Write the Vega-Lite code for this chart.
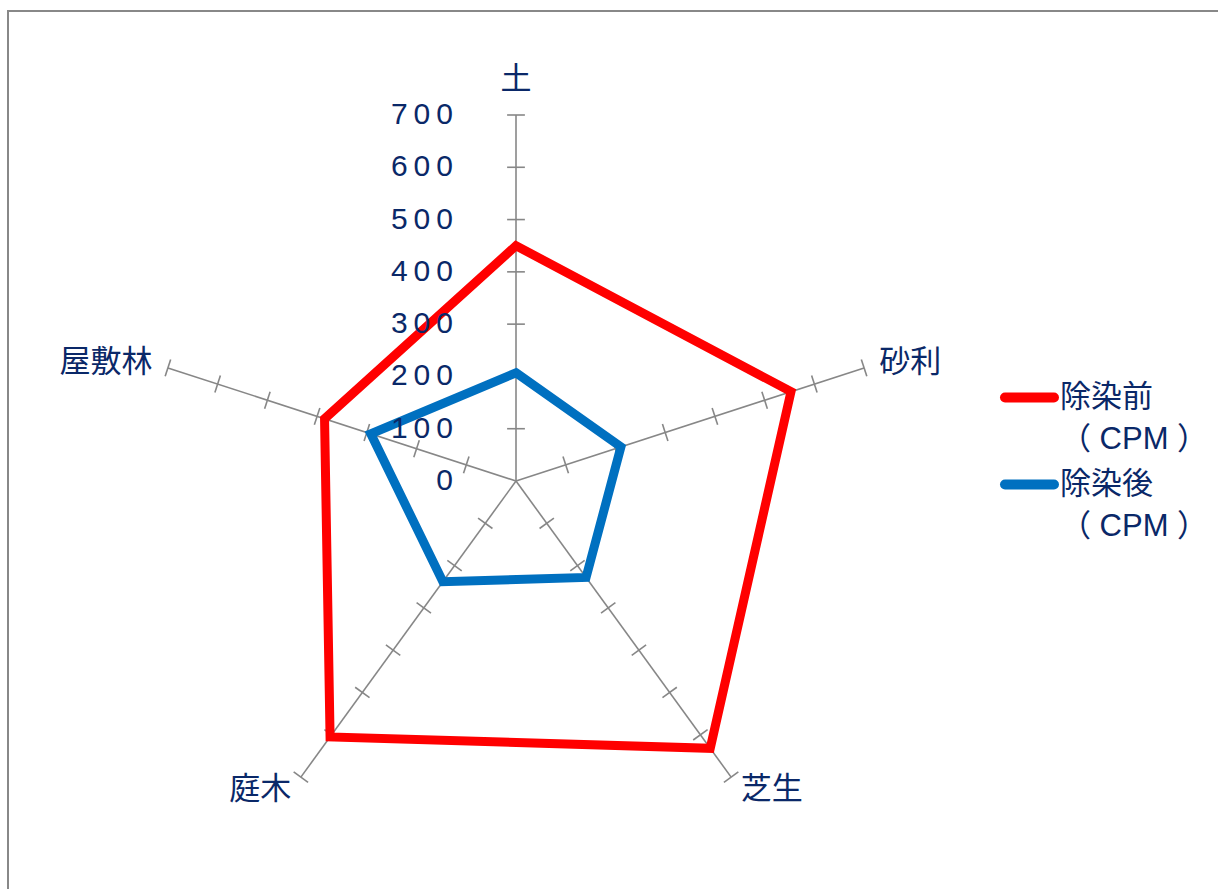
{
  "$schema": "https://vega.github.io/schema/vega-lite/v6.json",
  "width": 1215,
  "height": 883,
  "autosize": "none",
  "padding": {"left": 8, "top": 11, "right": 0, "bottom": 0},
  "background": "white",
  "config": {
    "view": {"stroke": "#888888", "strokeWidth": 2},
    "text": {"font": "Liberation Sans, Noto Sans CJK JP", "color": "#0A2868"}
  },
  "datasets": {
    "axes": [
      {"cat": "土", "i": 0, "levels": [100, 200, 300, 400, 500, 600, 700]},
      {"cat": "砂利", "i": 1, "levels": [100, 200, 300, 400, 500, 600, 700]},
      {"cat": "芝生", "i": 2, "levels": [100, 200, 300, 400, 500, 600, 700]},
      {"cat": "庭木", "i": 3, "levels": [100, 200, 300, 400, 500, 600, 700]},
      {"cat": "屋敷林", "i": 4, "levels": [100, 200, 300, 400, 500, 600, 700]}
    ],
    "values": [
      {"series": "除染前", "cat": "土", "i": 0, "value": 450},
      {"series": "除染前", "cat": "砂利", "i": 1, "value": 553},
      {"series": "除染前", "cat": "芝生", "i": 2, "value": 632},
      {"series": "除染前", "cat": "庭木", "i": 3, "value": 605},
      {"series": "除染前", "cat": "屋敷林", "i": 4, "value": 385},
      {"series": "除染後", "cat": "土", "i": 0, "value": 207},
      {"series": "除染後", "cat": "砂利", "i": 1, "value": 211},
      {"series": "除染後", "cat": "芝生", "i": 2, "value": 228},
      {"series": "除染後", "cat": "庭木", "i": 3, "value": 238},
      {"series": "除染後", "cat": "屋敷林", "i": 4, "value": 292}
    ],
    "levels": [
      {"v": 0}, {"v": 100}, {"v": 200}, {"v": 300}, {"v": 400}, {"v": 500}, {"v": 600}, {"v": 700}
    ]
  },
  "layer": [
    {
      "data": {"name": "axes"},
      "transform": [
        {"calculate": "datum.i * 2 * PI / 5", "as": "th"},
        {"calculate": "0", "as": "z"},
        {"calculate": "700 * sin(datum.th)", "as": "ex"},
        {"calculate": "700 * cos(datum.th)", "as": "ey"}
      ],
      "mark": {"type": "rule", "color": "#878787", "strokeWidth": 1.6},
      "encoding": {
        "x": {"field": "z", "type": "quantitative", "scale": {"domain": [-971.6, 1352.2], "nice": false, "zero": false}, "axis": null},
        "y": {"field": "z", "type": "quantitative", "scale": {"domain": [-789.9, 898.9], "nice": false, "zero": false}, "axis": null},
        "x2": {"field": "ex"},
        "y2": {"field": "ey"}
      }
    },
    {
      "data": {"name": "axes"},
      "transform": [
        {"flatten": ["levels"], "as": ["L"]},
        {"calculate": "datum.i * 2 * PI / 5", "as": "th"},
        {"calculate": "datum.L * sin(datum.th) + 17 * cos(datum.th)", "as": "tx1"},
        {"calculate": "datum.L * cos(datum.th) - 17 * sin(datum.th)", "as": "ty1"},
        {"calculate": "datum.L * sin(datum.th) - 17 * cos(datum.th)", "as": "tx2"},
        {"calculate": "datum.L * cos(datum.th) + 17 * sin(datum.th)", "as": "ty2"}
      ],
      "mark": {"type": "rule", "color": "#878787", "strokeWidth": 1.6},
      "encoding": {
        "x": {"field": "tx1", "type": "quantitative", "scale": {"domain": [-971.6, 1352.2], "nice": false, "zero": false}, "axis": null},
        "y": {"field": "ty1", "type": "quantitative", "scale": {"domain": [-789.9, 898.9], "nice": false, "zero": false}, "axis": null},
        "x2": {"field": "tx2"},
        "y2": {"field": "ty2"}
      }
    },
    {
      "data": {"name": "values"},
      "transform": [
        {"calculate": "datum.i * 2 * PI / 5", "as": "th"},
        {"calculate": "datum.value * sin(datum.th)", "as": "px"},
        {"calculate": "datum.value * cos(datum.th)", "as": "py"}
      ],
      "mark": {"type": "line", "interpolate": "linear-closed", "strokeWidth": 9, "strokeJoin": "miter"},
      "encoding": {
        "x": {"field": "px", "type": "quantitative", "scale": {"domain": [-971.6, 1352.2], "nice": false, "zero": false}, "axis": null},
        "y": {"field": "py", "type": "quantitative", "scale": {"domain": [-789.9, 898.9], "nice": false, "zero": false}, "axis": null},
        "order": {"field": "i", "type": "quantitative"},
        "color": {
          "field": "series",
          "type": "nominal",
          "scale": {"domain": ["除染前", "除染後"], "range": ["#FF0000", "#0070C0"]},
          "legend": {
            "title": null,
            "orient": "none",
            "legendX": 992,
            "legendY": 357,
            "symbolType": "stroke",
            "symbolSize": 2400,
            "symbolStrokeWidth": 10,
            "labelOffset": 1,
            "labelFont": "Liberation Sans, Noto Sans CJK JP",
            "labelFontSize": 31,
            "labelColor": "#0A2868",
            "labelLimit": 400,
            "labelExpr": "[datum.label, '（ CPM ）']",
            "rowPadding": -17,
            "encode": {
              "labels": {"update": {"lineHeight": {"value": 42}}},
              "symbols": {"update": {"strokeCap": {"value": "round"}}}
            }
          }
        }
      }
    },
    {
      "data": {"name": "levels"},
      "transform": [
        {"calculate": "0", "as": "z"},
        {"calculate": "join(split(toString(datum.v), ''), '\u2009')", "as": "lab"}
      ],
      "mark": {"type": "text", "align": "right", "baseline": "middle", "dx": -63, "fontSize": 30},
      "encoding": {
        "x": {"field": "z", "type": "quantitative", "scale": {"domain": [-971.6, 1352.2], "nice": false, "zero": false}, "axis": null},
        "y": {"field": "v", "type": "quantitative", "scale": {"domain": [-789.9, 898.9], "nice": false, "zero": false}, "axis": null},
        "text": {"field": "lab"}
      }
    },
    {
      "data": {"name": "axes"},
      "transform": [
        {"calculate": "datum.i * 2 * PI / 5", "as": "th"},
        {"calculate": "datum.i == 0 ? 767 : 730", "as": "R"},
        {"calculate": "sin(datum.th) > 0.01 ? 1 : (sin(datum.th) < -0.01 ? -1 : 0)", "as": "sg"},
        {"calculate": "datum.R * sin(datum.th) + 30 * length(datum.cat) * datum.sg", "as": "lx"},
        {"calculate": "datum.R * cos(datum.th)", "as": "ly"}
      ],
      "mark": {"type": "text", "align": "center", "baseline": "middle", "fontSize": 31, "font": "Noto Sans CJK JP"},
      "encoding": {
        "x": {"field": "lx", "type": "quantitative", "scale": {"domain": [-971.6, 1352.2], "nice": false, "zero": false}, "axis": null},
        "y": {"field": "ly", "type": "quantitative", "scale": {"domain": [-789.9, 898.9], "nice": false, "zero": false}, "axis": null},
        "text": {"field": "cat"}
      }
    }
  ]
}
